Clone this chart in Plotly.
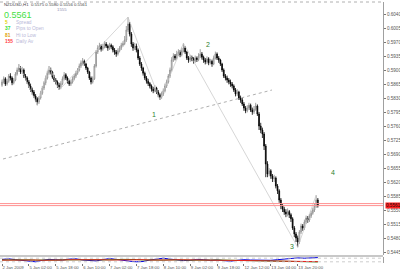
import plotly.graph_objects as go

# ---------------- data (prices in pips, 1 pip = 0.0001) ----------------
first_open = 5862
closes = [5870,5878,5865,5872,5885,5880,5868,5875,5890,5900,
          5905,5895,5900,5885,5880,5870,5860,5850,5845,5835,
          5828,5820,5830,5842,5855,5868,5880,5892,5900,5895,
          5882,5875,5870,5862,5858,5866,5878,5888,5880,5872,
          5865,5870,5878,5885,5892,5900,5910,5918,5922,5915,
          5905,5895,5880,5870,5878,5910,5945,5955,5960,5952,
          5958,5965,5960,5955,5962,5958,5950,5945,5940,5948,
          5955,5962,5966,5975,6000,6015,5990,5965,5955,5960,
          5950,5930,5915,5905,5892,5880,5872,5866,5860,5852,
          5848,5855,5845,5838,5832,5840,5848,5860,5870,5885,
          5900,5925,5935,5930,5940,5945,5938,5948,5955,5945,
          5930,5925,5932,5928,5922,5930,5926,5935,5940,5932,
          5925,5920,5928,5918,5922,5915,5930,5940,5930,5925,
          5915,5900,5885,5880,5875,5870,5865,5860,5850,5840,
          5845,5830,5825,5815,5805,5798,5805,5812,5800,5795,
          5802,5810,5790,5760,5750,5740,5710,5665,5640,5648,
          5635,5628,5630,5610,5598,5575,5560,5552,5545,5540,
          5546,5538,5528,5505,5490,5480,5470,5495,5510,5505,
          5520,5530,5525,5535,5542,5550,5560,5575,5561]
highs = [5876,5884,5882,5878,5890,5892,5884,5880,5895,5906,
         5915,5910,5908,5904,5890,5884,5875,5866,5856,5850,
         5840,5832,5835,5848,5860,5872,5886,5898,5910,5906,
         5898,5888,5880,5874,5868,5872,5884,5895,5892,5884,
         5876,5876,5884,5890,5898,5905,5916,5924,5930,5926,
         5918,5908,5898,5884,5884,5915,5950,5962,5968,5964,
         5965,5972,5970,5964,5968,5966,5962,5955,5950,5954,
         5960,5968,5972,5985,6010,6032,6020,5995,5970,5968,
         5966,5954,5935,5920,5908,5896,5885,5878,5870,5864,
         5858,5862,5858,5850,5842,5846,5854,5866,5876,5890,
         5906,5932,5942,5940,5948,5952,5950,5956,5967,5960,
         5948,5935,5938,5936,5932,5936,5934,5942,5952,5945,
         5936,5930,5934,5932,5928,5926,5936,5946,5944,5935,
         5928,5918,5904,5890,5886,5880,5876,5870,5864,5855,
         5852,5848,5836,5830,5820,5810,5812,5818,5816,5806,
         5810,5818,5814,5795,5768,5756,5745,5715,5672,5655,
         5652,5640,5638,5634,5615,5602,5580,5565,5558,5552,
         5554,5550,5542,5532,5510,5495,5486,5500,5516,5515,
         5526,5536,5535,5540,5548,5556,5566,5587,5580]
lows = [5858,5866,5860,5861,5868,5874,5862,5864,5872,5886,
        5895,5890,5890,5880,5874,5865,5855,5845,5838,5830,
        5820,5812,5815,5826,5838,5850,5862,5876,5888,5889,
        5878,5870,5864,5855,5850,5852,5862,5874,5875,5866,
        5860,5860,5866,5874,5880,5888,5896,5905,5912,5910,
        5900,5890,5875,5864,5866,5875,5906,5940,5950,5946,
        5948,5954,5955,5948,5950,5952,5944,5938,5933,5936,
        5944,5950,5958,5962,5970,5995,5984,5958,5948,5950,
        5944,5925,5910,5898,5886,5875,5866,5860,5854,5846,
        5842,5844,5840,5832,5825,5828,5835,5844,5855,5866,
        5880,5896,5920,5924,5926,5935,5932,5934,5944,5940,
        5925,5918,5920,5922,5916,5918,5920,5922,5930,5926,
        5918,5914,5915,5912,5914,5908,5912,5926,5925,5918,
        5910,5895,5880,5874,5868,5864,5858,5854,5845,5834,
        5835,5825,5818,5810,5798,5792,5794,5800,5795,5788,
        5790,5798,5785,5750,5742,5730,5700,5632,5632,5634,
        5628,5620,5620,5604,5590,5568,5552,5545,5538,5532,
        5534,5530,5520,5500,5482,5470,5457,5465,5490,5498,
        5500,5515,5518,5520,5530,5538,5545,5555,5556]

# time-axis labels (one every 16 hourly bars)
time_tick_idx = [0, 16, 32, 48, 64, 80, 96, 112, 128, 144, 160, 176]
time_tick_text = ["2 Jan 2009", "5 Jan 02:00", "5 Jan 18:00", "6 Jan 10:00",
                  "7 Jan 02:00", "7 Jan 18:00", "8 Jan 10:00", "9 Jan 02:00",
                  "9 Jan 18:00", "12 Jan 12:00", "13 Jan 04:00", "13 Jan 20:00"]
price_ticks = [0.6040, 0.6005, 0.5970, 0.5935, 0.5900, 0.5865, 0.5830, 0.5795,
               0.5760, 0.5725, 0.5690, 0.5655, 0.5620, 0.5585, 0.5550, 0.5515,
               0.5480, 0.5445]

# zigzag swing points (bar index, price)
zz_idx = [10, 21, 28, 34, 75, 94, 108, 176, 187]
zz_price = [0.5915, 0.5812, 0.5910, 0.5850, 0.6032, 0.5825, 0.5967, 0.5457, 0.5587]

# trend line (dotted)
trend_idx = [0.6, 160.7]
trend_price = [0.56775, 0.5850]

# wave labels
wave_text = ["1", "2", "3", "4"]
wave_idx = [90.5, 122.6, 172.6, 197.0]
wave_price = [0.5790, 0.5965, 0.5460, 0.5643]

bid = 0.5561
ask = 0.5566

# oscillator sub-window (sampled every 4 bars)
osc_idx = list(range(0, 189, 4))
osc_blue = [60,70,55,45,30,20,45,60,55,50,65,70,50,40,35,55,75,60,40,30,
            20,25,50,70,80,65,50,40,45,60,55,45,50,35,30,45,55,50,45,40,
            45,55,65,75,85,80,85,90]
osc_green = [50,52,55,55,52,48,45,45,48,52,55,58,60,58,55,52,50,55,60,62,
             58,52,48,45,48,52,55,52,48,45,45,48,50,48,45,42,40,38,36,34,
             32,30,28,26,24,22,20,18]
osc_red = [48,50,52,56,54,50,46,44,46,50,54,56,58,60,57,54,50,52,58,62,
           60,55,50,46,46,50,54,54,50,46,44,46,49,49,46,43,41,39,37,35,
           33,31,29,27,25,23,21,22]

# ---------------- figure ----------------
S = 1e-4
opens = [first_open] + closes[:-1]
idx = list(range(len(closes)))

W, H = 400, 271
def py(y):  # pixel row -> paper y
    return 1 - y / H

XDOM = [0, 383 / W]
fig = go.Figure()

fig.add_trace(go.Candlestick(
    x=idx, open=[v * S for v in opens], high=[v * S for v in highs],
    low=[v * S for v in lows], close=[v * S for v in closes],
    increasing=dict(line=dict(color="#8a8a8a", width=0.8), fillcolor="#ffffff"),
    decreasing=dict(line=dict(color="#000000", width=0.8), fillcolor="#000000"),
    whiskerwidth=0, showlegend=False, hoverinfo="skip",
    xaxis="x", yaxis="y"))

fig.add_trace(go.Scatter(x=zz_idx, y=zz_price, mode="lines",
                         line=dict(color="#c4c4c4", width=0.7),
                         showlegend=False, hoverinfo="skip", xaxis="x", yaxis="y"))
fig.add_trace(go.Scatter(x=trend_idx, y=trend_price, mode="lines",
                         line=dict(color="#9a9a9a", width=0.8, dash="dot"),
                         showlegend=False, hoverinfo="skip", xaxis="x", yaxis="y"))

for col, vals in (("#0000dd", osc_blue), ("#008800", osc_green), ("#ee2222", osc_red)):
    fig.add_trace(go.Scatter(x=osc_idx, y=vals, mode="lines",
                             line=dict(color=col, width=1),
                             showlegend=False, hoverinfo="skip",
                             xaxis="x2", yaxis="y2"))

xr = [-2 / 1.68, 381 / 1.68]
fig.update_layout(
    width=W, height=H, margin=dict(l=0, r=0, t=0, b=0),
    paper_bgcolor="white", plot_bgcolor="white",
    font=dict(family="Liberation Sans, Arial, sans-serif", size=5, color="#555555"),
    xaxis=dict(domain=XDOM, range=xr, anchor="y", showticklabels=False,
               showgrid=False, zeroline=False, rangeslider=dict(visible=False),
               fixedrange=True, automargin=False),
    yaxis=dict(domain=[py(255), py(2)], range=[0.54375, 0.6070], side="right",
               anchor="x", tickvals=price_ticks,
               ticktext=["%.4f" % v for v in price_ticks],
               ticks="outside", ticklen=2, tickcolor="#777777",
               tickfont=dict(size=4.6, color="#555555"),
               showgrid=False, zeroline=False, showline=True,
               linecolor="#a0a0a0", linewidth=1, automargin=False),
    xaxis2=dict(domain=XDOM, range=xr, anchor="y2", matches="x",
                tickvals=time_tick_idx, ticktext=time_tick_text,
                ticks="outside", ticklen=2, tickcolor="#777777",
                tickangle=0, ticklabelposition="outside right",
                tickfont=dict(size=4.3, color="#555555"),
                showgrid=False, zeroline=False, automargin=False),
    yaxis2=dict(domain=[py(263), py(257)], range=[0, 100], side="right",
                anchor="x2", showticklabels=False, showgrid=False,
                zeroline=False, showline=True, linecolor="#a0a0a0",
                automargin=False),
)

shapes = []
# top dotted border
shapes.append(dict(type="line", xref="paper", yref="paper", x0=0, x1=XDOM[1],
                   y0=py(2), y1=py(2), line=dict(color="#b0b0b0", width=1, dash="dot")))
# separator between price window and oscillator
shapes.append(dict(type="rect", xref="paper", yref="paper", x0=0, x1=XDOM[1],
                   y0=py(257), y1=py(255), fillcolor="#c8c8c8", line=dict(width=0)))
# oscillator dotted levels
for lv in (80, 20):
    shapes.append(dict(type="line", xref="x2", yref="y2", x0=xr[0], x1=xr[1],
                       y0=lv, y1=lv, line=dict(color="#c0c0c0", width=0.8, dash="dot")))
# bid / ask lines
for p in (ask, bid):
    shapes.append(dict(type="line", xref="paper", yref="y", x0=0, x1=XDOM[1],
                       y0=p, y1=p, line=dict(color="#ff9090", width=1)))
fig.update_layout(shapes=shapes)

ann = []
def txt(x, y, s, size, color, **kw):
    ann.append(dict(x=x / W, y=py(y), xref="paper", yref="paper", text=s,
                    showarrow=False, xanchor=kw.get("xanchor", "left"),
                    yanchor="middle", font=dict(size=size, color=color)))

txt(2, 5, "NZDUSD,H1  0.5575 0.5580 0.5556 0.5561", 4.3, "#444444")
txt(62, 10, "1555", 4.3, "#9090b0", xanchor="center")
txt(2, 14.5, "%.4f" % bid, 9, "#44e044")
info_vals = ["5", "37", "81", "155"]
info_cols = ["#e0d000", "#33dd33", "#e0a000", "#ff4040"]
info_text = ["Spread", "Pips to Open", "Hi to Low", "Daily Av"]
for k, (v, c, t) in enumerate(zip(info_vals, info_cols, info_text)):
    yy = 22 + 6.6 * k
    txt(3, yy, "<b>%s</b>" % v, 4.8, c)
    txt(14, yy, t, 4.8, "#b8b8d8")

for t, xi, pr in zip(wave_text, wave_idx, wave_price):
    ann.append(dict(x=xi, y=pr, xref="x", yref="y", text=t, showarrow=False,
                    font=dict(size=7, color="#2f7f2f")))

# current price label on the axis
ann.append(dict(x=384.5 / W, y=bid, xref="paper", yref="y", text="%.4f" % bid,
                showarrow=False, xanchor="left", yanchor="middle",
                bgcolor="#ff2020", borderpad=0,
                font=dict(size=4.6, color="#111111")))
fig.update_layout(annotations=ann)

fig.write_html("out.html")
